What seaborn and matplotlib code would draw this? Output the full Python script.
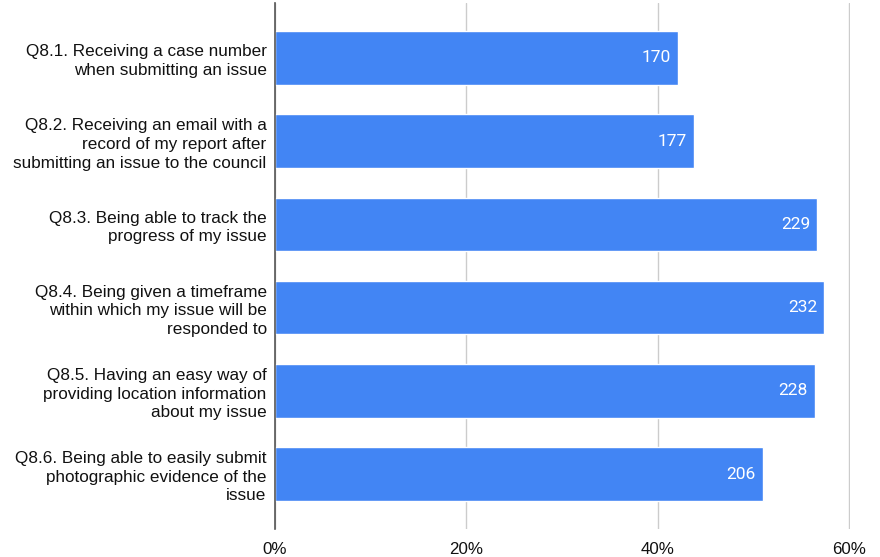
import matplotlib
matplotlib.use("Agg")
import matplotlib.pyplot as plt
import seaborn as sns
import pandas as pd

questions = [
    "Q8.1. Receiving a case number\nwhen submitting an issue",
    "Q8.2. Receiving an email with a\nrecord of my report after\nsubmitting an issue to the council",
    "Q8.3. Being able to track the\nprogress of my issue",
    "Q8.4. Being given a timeframe\nwithin which my issue will be\nresponded to",
    "Q8.5. Having an easy way of\nproviding location information\nabout my issue",
    "Q8.6. Being able to easily submit\nphotographic evidence of the\nissue",
]
counts = [170, 177, 229, 232, 228, 206]
share_pct = [42.08, 43.81, 56.68, 57.43, 56.44, 50.99]
x_ticks = [0, 20, 40, 60]
x_tick_labels = ["0%", "20%", "40%", "60%"]

df = pd.DataFrame({"question": questions, "share": share_pct, "count": counts})

sns.set_theme(style="white")
plt.rcParams["font.family"] = ["Liberation Sans", "DejaVu Sans"]

fig = plt.figure(figsize=(8.8, 5.57), dpi=100)
ax = fig.add_axes([275 / 880, 1 - 529 / 557, (850 - 275) / 880, 526 / 557])

sns.barplot(data=df, x="share", y="question", orient="h", color="#4285F4",
            saturation=1, width=0.645, ax=ax)

for patch, n in zip(ax.patches, df["count"]):
    ax.text(patch.get_width() - 0.72, patch.get_y() + patch.get_height() / 2,
            str(n), ha="right", va="center", color="white", fontsize=12.5,
            family=["Roboto", "DejaVu Sans"])

ax.set_xlim(0, 60.1)
ax.set_ylim(5.5 + 0.16, -0.5 - 0.16)
ax.set_xticks(x_ticks)
ax.set_xticklabels(x_tick_labels, fontsize=12.2, color="#111111")
ax.tick_params(axis="y", labelsize=12.35, labelcolor="#111111", pad=6, length=0)
ax.tick_params(axis="x", pad=9, length=0)
ax.set_xlabel("")
ax.set_ylabel("")
for lbl in ax.get_yticklabels():
    lbl.set_linespacing(1.3)

ax.grid(axis="x", color="#cccccc", linewidth=1)
ax.set_axisbelow(True)
for side in ["top", "right", "bottom"]:
    ax.spines[side].set_visible(False)
ax.spines["left"].set_color("#555555")
ax.spines["left"].set_linewidth(1.2)
ax.spines["left"].set_zorder(5)

fig.savefig("out.png", dpi=100)
